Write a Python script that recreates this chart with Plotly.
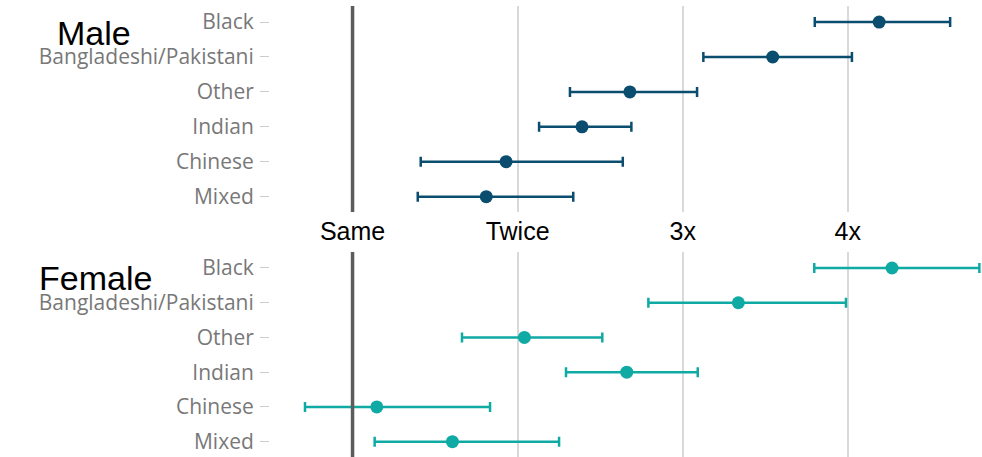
import plotly.graph_objects as go

categories = ["Mixed", "Chinese", "Indian", "Other", "Bangladeshi/Pakistani", "Black"]

male_est = [1.81, 1.93, 2.39, 2.68, 3.545, 4.19]
male_low = [1.395, 1.413, 2.13, 2.317, 3.125, 3.80]
male_high = [2.337, 2.637, 2.689, 3.087, 4.025, 4.62]

female_est = [1.605, 1.147, 2.661, 2.041, 3.337, 4.268]
female_low = [1.134, 0.712, 2.293, 1.663, 2.792, 3.797]
female_high = [2.251, 1.833, 3.091, 2.513, 3.989, 4.797]

tick_vals = [1, 2, 3, 4]
tick_text = ["Same", "Twice", "3x", "4x"]

male_color = "#0b4d6e"
female_color = "#10aaa5"

W, H = 982, 457


def err_trace(est, low, high, color, xa, ya):
    return go.Scatter(
        x=est, y=categories, mode="markers",
        xaxis=xa, yaxis=ya,
        marker=dict(color=color, size=13, symbol="circle"),
        error_x=dict(type="data", symmetric=False,
                     array=[h - e for h, e in zip(high, est)],
                     arrayminus=[e - l for e, l in zip(est, low)],
                     color=color, thickness=2.5, width=5),
        showlegend=False, hoverinfo="skip",
    )


fig = go.Figure()
fig.add_trace(err_trace(male_est, male_low, male_high, male_color, "x", "y"))
fig.add_trace(err_trace(female_est, female_low, female_high, female_color, "x2", "y2"))

xdom = [270 / W, 1.0]
xrange = [0.5, 4.813]
ytick_font = dict(family="Open Sans", size=21, color="#787878")

common_x = dict(range=xrange, domain=xdom, tickmode="array", tickvals=tick_vals,
                showgrid=True, gridcolor="#d9d9d9", gridwidth=1.5,
                zeroline=False, showline=False, ticks="")
common_y = dict(type="category", categoryorder="array", categoryarray=categories,
                range=[-0.44, 5.46], showgrid=False, zeroline=False, showline=False,
                ticks="outside", ticklen=9, tickcolor="#cccccc", tickwidth=1.2,
                tickfont=ytick_font, ticklabelstandoff=2)

fig.update_layout(
    width=W, height=H,
    margin=dict(l=0, r=0, t=0, b=0),
    paper_bgcolor="white", plot_bgcolor="white",
    xaxis=dict(**common_x, anchor="y", ticktext=tick_text, showticklabels=True,
               ticklabelstandoff=2,
               tickfont=dict(family="Liberation Sans, Arial", size=25, color="black")),
    yaxis=dict(**common_y, domain=[(H - 212) / H, (H - 6) / H], anchor="x"),
    xaxis2=dict(**common_x, anchor="y2", showticklabels=False),
    yaxis2=dict(**common_y, domain=[0, (H - 252) / H], anchor="x2"),
    shapes=[
        dict(type="line", xref="x", yref="y domain", x0=1, x1=1, y0=0, y1=1,
             line=dict(color="#5c5c5c", width=3.5), layer="above"),
        dict(type="line", xref="x2", yref="y2 domain", x0=1, x1=1, y0=0, y1=1,
             line=dict(color="#5c5c5c", width=3.5), layer="above"),
    ],
    annotations=[
        dict(text="Male", xref="paper", yref="paper", x=94 / W, y=1 - 33 / H,
             xanchor="center", yanchor="middle", showarrow=False,
             font=dict(family="Liberation Sans, Arial", size=34, color="black")),
        dict(text="Female", xref="paper", yref="paper", x=95 / W, y=1 - 278 / H,
             xanchor="center", yanchor="middle", showarrow=False,
             font=dict(family="Liberation Sans, Arial", size=34, color="black")),
    ],
)

fig.write_html("out.html")
